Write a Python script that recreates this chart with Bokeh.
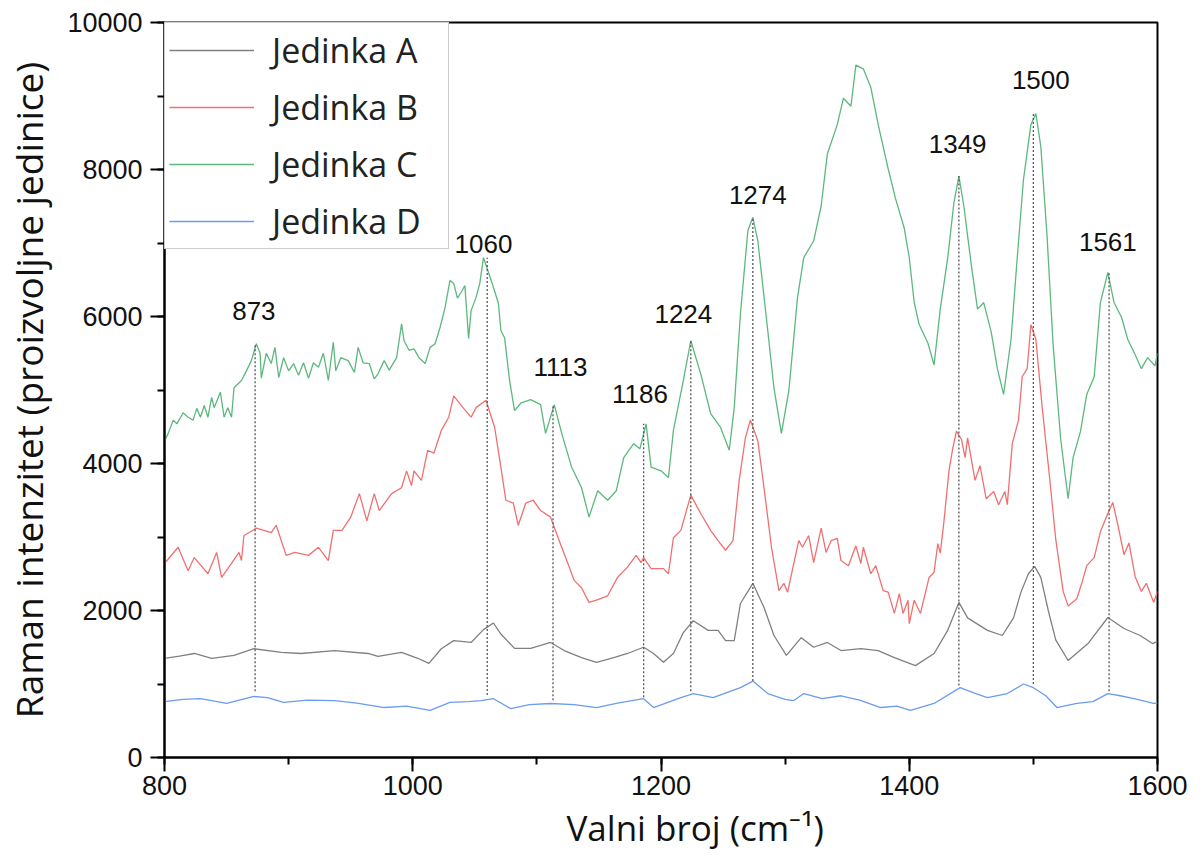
from bokeh.plotting import figure
from bokeh.models import SingleIntervalTicker, Legend, LegendItem, Title, ColumnDataSource
from bokeh.core.properties import value
from bokeh.embed import file_html
from bokeh.resources import INLINE

# ---------------- data ----------------
series_names = ["Jedinka A", "Jedinka B", "Jedinka C", "Jedinka D"]

a_x = [800, 812, 824, 838, 856, 872, 894, 910, 937, 964, 972, 991, 1004, 1013, 1023, 1033, 1047, 1057,
       1065, 1071, 1082, 1095, 1111, 1122, 1136, 1148, 1162, 1173, 1186, 1194, 1202, 1210, 1218, 1226,
       1238, 1246, 1252, 1259, 1264, 1274, 1283, 1291, 1301, 1313, 1323, 1334, 1345, 1361, 1375, 1388,
       1405, 1420, 1431, 1440, 1447, 1463, 1475, 1484, 1490, 1496, 1501, 1506, 1512, 1518, 1528, 1544,
       1560, 1573, 1586, 1596, 1600]
a_y = [1350, 1380, 1415, 1350, 1390, 1480, 1430, 1415, 1455, 1415, 1375, 1430, 1350, 1280, 1480, 1590,
       1565, 1740, 1830, 1680, 1485, 1485, 1565, 1455, 1360, 1295, 1360, 1415, 1500, 1415, 1295, 1415,
       1700, 1860, 1730, 1730, 1590, 1590, 2095, 2370, 2040, 1660, 1390, 1630, 1500, 1565, 1455, 1480,
       1455, 1360, 1250, 1415, 1730, 2110, 1900, 1730, 1660, 1900, 2250, 2500, 2600, 2450, 2000, 1600,
       1320, 1550, 1905, 1755, 1660, 1550, 1580]

b_x = [800, 811, 819, 824, 835, 842, 846, 854, 860, 862, 864, 874, 886, 890, 898, 905, 916, 924, 932,
       936, 943, 950, 957, 963, 969, 973, 983, 991, 995, 999, 1001, 1007, 1012, 1017, 1023, 1029, 1033,
       1041, 1047, 1051, 1059, 1066, 1071, 1075, 1081, 1085, 1091, 1097, 1103, 1111, 1118, 1125, 1130,
       1136, 1142, 1148, 1157, 1165, 1173, 1180, 1184, 1186, 1192, 1202, 1206, 1210, 1216, 1224, 1232,
       1240, 1246, 1252, 1258, 1263, 1268, 1272, 1278, 1283, 1289, 1295, 1299, 1302, 1307, 1311, 1314,
       1319, 1323, 1329, 1333, 1337, 1342, 1345, 1351, 1357, 1361, 1363, 1369, 1373, 1379, 1383, 1388,
       1392, 1395, 1399, 1400, 1404, 1409, 1416, 1420, 1423, 1425, 1428, 1432, 1435, 1438, 1442, 1445,
       1447, 1453, 1457, 1462, 1468, 1472, 1477, 1479, 1483, 1488, 1491, 1495, 1498, 1502, 1507, 1513,
       1518, 1524, 1528, 1535, 1539, 1543, 1549, 1554, 1560, 1564, 1568, 1573, 1577, 1582, 1587, 1591,
       1597, 1600]
b_y = [2640, 2860, 2540, 2720, 2500, 2790, 2450, 2640, 2790, 2680, 3020, 3120, 3060, 3160, 2750, 2790,
       2750, 2860, 2680, 3090, 3090, 3270, 3590, 3220, 3590, 3360, 3590, 3670, 3900, 3700, 3900, 3770,
       4180, 4140, 4450, 4630, 4920, 4750, 4630, 4760, 4860, 4490, 3950, 3500, 3460, 3160, 3460, 3500,
       3360, 3270, 2950, 2640, 2410, 2310, 2110, 2140, 2200, 2450, 2590, 2750, 2650, 2720, 2570, 2570,
       2500, 2990, 3090, 3570, 3320, 3090, 2950, 2820, 2950, 3770, 4350, 4590, 4310, 3670, 2860, 2270,
       2370, 2250, 2640, 2950, 2860, 3020, 2650, 3120, 2790, 2950, 2980, 2680, 2610, 2880, 2640, 2860,
       2500, 2610, 2270, 2250, 1960, 2230, 1960, 2140, 1820, 2140, 1960, 2450, 2520, 2910, 2780, 3220,
       3900, 4200, 4440, 4330, 4080, 4350, 3770, 3970, 3520, 3620, 3440, 3620, 3440, 4270, 4590, 5180,
       5290, 5890, 5690, 4780, 3820, 2970, 2260, 2060, 2160, 2370, 2610, 2720, 3070, 3320, 3470, 3170,
       2760, 2920, 2460, 2260, 2370, 2110, 2260]

c_x = [800, 803, 807, 810, 815, 819, 823, 826, 829, 832, 835, 838, 840, 845, 848, 851, 854, 856, 862,
       866, 870, 874, 877, 878, 882, 886, 889, 892, 896, 900, 904, 908, 912, 916, 920, 924, 928, 932,
       936, 938, 942, 948, 953, 956, 960, 965, 969, 972, 977, 981, 987, 991, 993, 997, 1001, 1005, 1010,
       1014, 1018, 1022, 1026, 1030, 1033, 1036, 1039, 1042, 1045, 1047, 1051, 1054, 1057, 1060, 1064,
       1069, 1071, 1074, 1078, 1082, 1087, 1095, 1103, 1107, 1114, 1120, 1128, 1136, 1142, 1149, 1157,
       1164, 1170, 1178, 1183, 1188, 1192, 1200, 1206, 1210, 1218, 1224, 1232, 1240, 1248, 1255, 1259,
       1264, 1270, 1274, 1278, 1286, 1291, 1297, 1303, 1310, 1315, 1323, 1329, 1334, 1342, 1347, 1353,
       1357, 1363, 1369, 1375, 1383, 1389, 1396, 1400, 1404, 1408, 1415, 1420, 1425, 1431, 1436, 1440,
       1444, 1450, 1455, 1460, 1466, 1471, 1476, 1482, 1487, 1492, 1498, 1502, 1506, 1511, 1516, 1522,
       1528, 1532, 1538, 1543, 1549, 1554, 1560, 1565, 1571, 1576, 1582, 1587, 1592, 1598, 1600]
c_y = [4300, 4410, 4590, 4540, 4690, 4630, 4590, 4750, 4630, 4790, 4630, 4900, 4760, 4970, 4630, 4760,
       4630, 5030, 5130, 5260, 5400, 5630, 5500, 5160, 5500, 5360, 5580, 5170, 5440, 5260, 5360, 5200,
       5370, 5160, 5370, 5310, 5500, 5130, 5650, 5260, 5440, 5400, 5240, 5580, 5370, 5360, 5150, 5220,
       5400, 5270, 5440, 5900, 5670, 5540, 5560, 5440, 5360, 5580, 5630, 5850, 6120, 6490, 6450, 6250,
       6330, 6420, 5700, 6080, 6260, 6450, 6800, 6650, 6450, 6180, 5810, 5710, 5130, 4720, 4820, 4870,
       4800, 4410, 4800, 4410, 3950, 3670, 3270, 3630, 3500, 3630, 4080, 4270, 4200, 4540, 3950, 3900,
       3810, 4450, 5130, 5670, 5220, 4680, 4490, 4180, 4760, 6040, 7170, 7350, 7030, 5810, 5030, 4410,
       4990, 6260, 6800, 7030, 7500, 8210, 8610, 8970, 8860, 9420, 9370, 9120, 8610, 8010, 7600, 7200,
       6800, 6190, 5890, 5640, 5340, 6100, 6800, 7550, 7910, 7500, 6700, 6100, 6190, 5790, 5290, 4940,
       5690, 6800, 7860, 8610, 8760, 8310, 7100, 5590, 4330, 3520, 4080, 4440, 4940, 5180, 6190, 6600,
       6190, 5990, 5690, 5480, 5290, 5440, 5330, 5500]

d_x = [800, 815, 829, 850, 872, 883, 896, 915, 937, 955, 977, 995, 1014, 1030, 1045, 1055, 1065, 1079,
       1094, 1111, 1130, 1148, 1165, 1186, 1194, 1216, 1226, 1242, 1264, 1274, 1286, 1300, 1307, 1315,
       1330, 1345, 1360, 1377, 1390, 1401, 1420, 1441, 1452, 1463, 1479, 1492, 1500, 1510, 1519, 1535,
       1548, 1560, 1570, 1581, 1597, 1600]
d_y = [760, 790, 800, 735, 830, 815, 750, 780, 775, 740, 680, 700, 640, 750, 760, 775, 800, 665, 720,
       735, 720, 680, 740, 800, 680, 815, 870, 815, 950, 1040, 870, 790, 775, 870, 800, 840, 780, 680,
       700, 640, 735, 950, 880, 815, 870, 1000, 950, 840, 680, 735, 760, 870, 840, 800, 735, 740]

peak_x = [873, 1060, 1113, 1186, 1224, 1274, 1440, 1500, 1561]
peak_top = [5620, 6800, 4800, 4540, 5670, 7350, 7910, 8760, 6600]
peak_bottom = [900, 850, 780, 820, 900, 1040, 980, 1000, 900]
peak_labels = ["873", "1060", "1113", "1186", "1224", "1274", "1349", "1500", "1561"]
label_x = [872, 1057, 1119, 1183, 1218, 1278, 1439, 1506, 1560]
label_y = [6070, 6980, 5310, 4950, 6040, 7650, 8350, 9220, 7020]

x_ticks_interval = 200
y_ticks_interval = 2000

# ---------------- figure ----------------
colors = ["#808080", "#f07070", "#5cb87e", "#6a9cf0"]

p = figure(width=1193, height=857, x_range=(800, 1600), y_range=(0, 10000),
           output_backend="svg", toolbar_location=None,
           min_border_left=163, min_border_right=36, min_border_top=22, min_border_bottom=100)
p.background_fill_color = "white"
p.border_fill_color = "white"
p.grid.visible = False
p.outline_line_color = "black"
p.outline_line_width = 2

renderers = []
for xs, ys, col in zip([a_x, b_x, c_x, d_x], [a_y, b_y, c_y, d_y], colors):
    r = p.line(xs, ys, line_color=col, line_width=1.3)
    renderers.append(r)

# peak marker lines
p.segment(x0=peak_x, y0=peak_bottom, x1=peak_x, y1=peak_top,
          line_color="#555555", line_width=1.3, line_dash="2 2")

src = ColumnDataSource(dict(x=label_x, y=label_y, t=peak_labels))
p.text(x="x", y="y", text="t", source=src, text_font=value("Liberation Sans"),
       text_font_size="26px", text_align="center", text_baseline="middle", text_color="#111111")

legend = Legend(items=[LegendItem(label=n, renderers=[r]) for n, r in zip(series_names, renderers)],
                location="top_left", margin=0, padding=4, spacing=11,
                label_height=36, glyph_height=36, glyph_width=85, label_standoff=18,
                label_width=172,
                label_text_font="Open Sans", label_text_font_size="34px",
                label_text_color="#222222", border_line_color="#999999", border_line_width=1,
                background_fill_alpha=1.0)
p.add_layout(legend)

for ax in (p.xaxis[0], p.yaxis[0]):
    ax.axis_line_width = 2
    ax.axis_line_color = "black"
    ax.major_tick_line_color = "black"
    ax.minor_tick_line_color = "black"
    ax.major_tick_line_width = 2
    ax.minor_tick_line_width = 2
    ax.major_tick_out = 14
    ax.major_tick_in = 0
    ax.minor_tick_out = 7
    ax.minor_tick_in = 0
    ax.major_label_text_font = "Liberation Sans"
    ax.major_label_text_font_size = "27px"
    ax.major_label_text_color = "#111111"

p.xaxis[0].ticker = SingleIntervalTicker(interval=x_ticks_interval, num_minor_ticks=2)
p.yaxis[0].ticker = SingleIntervalTicker(interval=y_ticks_interval, num_minor_ticks=2)
p.xaxis[0].major_label_standoff = 4
p.yaxis[0].major_label_standoff = 8

p.yaxis[0].axis_label = "Raman intenzitet (proizvoljne jedinice)"
p.yaxis[0].axis_label_text_font = "Open Sans"
p.yaxis[0].axis_label_text_font_size = "37px"
p.yaxis[0].axis_label_text_font_style = "normal"
p.yaxis[0].axis_label_text_color = "#111111"
p.yaxis[0].axis_label_standoff = 10

xtitle = Title(text="Valni broj (cm\u207b\u00b9)", align="left", offset=402,
               text_font="Open Sans", text_font_size="35px", text_font_style="normal",
               text_color="#111111", standoff=8)
p.add_layout(xtitle, "below")

open("out.html", "w").write(file_html(p, INLINE))
